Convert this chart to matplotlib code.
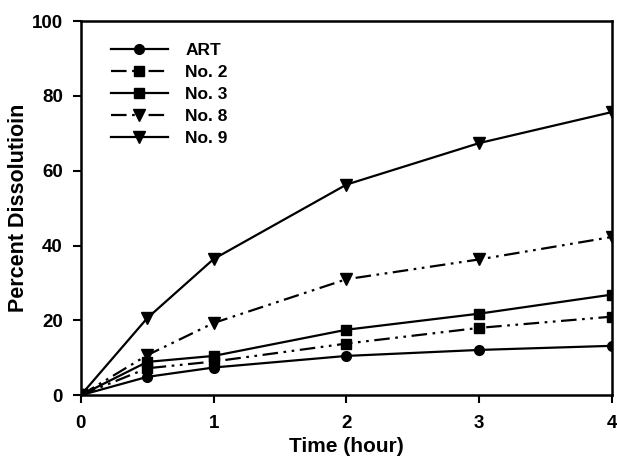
import numpy as np
import matplotlib
matplotlib.use("Agg")
import matplotlib.pyplot as plt

plt.rcParams['font.family'] = ['Liberation Sans', 'DejaVu Sans']
plt.rcParams['font.weight'] = 'bold'

# sampling times (hour)
time = [0, 0.5, 1, 2, 3, 4]

# percent dissolution
art = [0, 4.9, 7.4, 10.5, 12.1, 13.2]
no2 = [0, 7.2, 9.0, 13.8, 18.0, 21.0]
no3 = [0, 8.9, 10.5, 17.5, 21.8, 26.9]
no8 = [0, 10.7, 19.3, 31.0, 36.3, 42.3]
no9 = [0, 20.6, 36.4, 56.3, 67.4, 75.7]

labels = ['ART', 'No. 2', 'No. 3', 'No. 8', 'No. 9']

dashdotdot = (0, (7, 2.5, 1.2, 2.5, 1.2, 2.5))

fig = plt.figure(figsize=(6.17, 4.59), dpi=100)
ax = fig.add_axes([0.131, 0.139, 0.861, 0.815])

ax.plot(time, art, '-', marker='o', ms=7, color='black', lw=1.6, label=labels[0])
ax.plot(time, no2, linestyle=dashdotdot, marker='s', ms=7.5, color='black', lw=1.6, label=labels[1])
ax.plot(time, no3, '-', marker='s', ms=7.5, color='black', lw=1.6, label=labels[2])
ax.plot(time, no8, linestyle=dashdotdot, marker='v', ms=8, color='black', lw=1.6, label=labels[3])
ax.plot(time, no9, '-', marker='v', ms=8, color='black', lw=1.6, label=labels[4])

ax.set_xlim(0, 4)
ax.set_ylim(0, 100)
ax.set_xticks([0, 1, 2, 3, 4])
ax.set_yticks([0, 20, 40, 60, 80, 100])
ax.tick_params(direction='out', length=6, width=1.5, labelsize=13.5)
ax.tick_params(axis='x', pad=8)
ax.tick_params(axis='y', pad=7)
for s in ax.spines.values():
    s.set_linewidth(1.8)

ax.set_xlabel('Time (hour)', fontsize=15, fontweight='bold', labelpad=4)
ax.set_ylabel('Percent Dissolutioin', fontsize=15.5, fontweight='bold', labelpad=2)

leg = ax.legend(loc='upper left', frameon=False, fontsize=12.5, handlelength=3.3,
                handletextpad=1.0, labelspacing=0.4, borderaxespad=0.3,
                bbox_to_anchor=(0.033, 0.975))

fig.savefig('out.png', dpi=100)
